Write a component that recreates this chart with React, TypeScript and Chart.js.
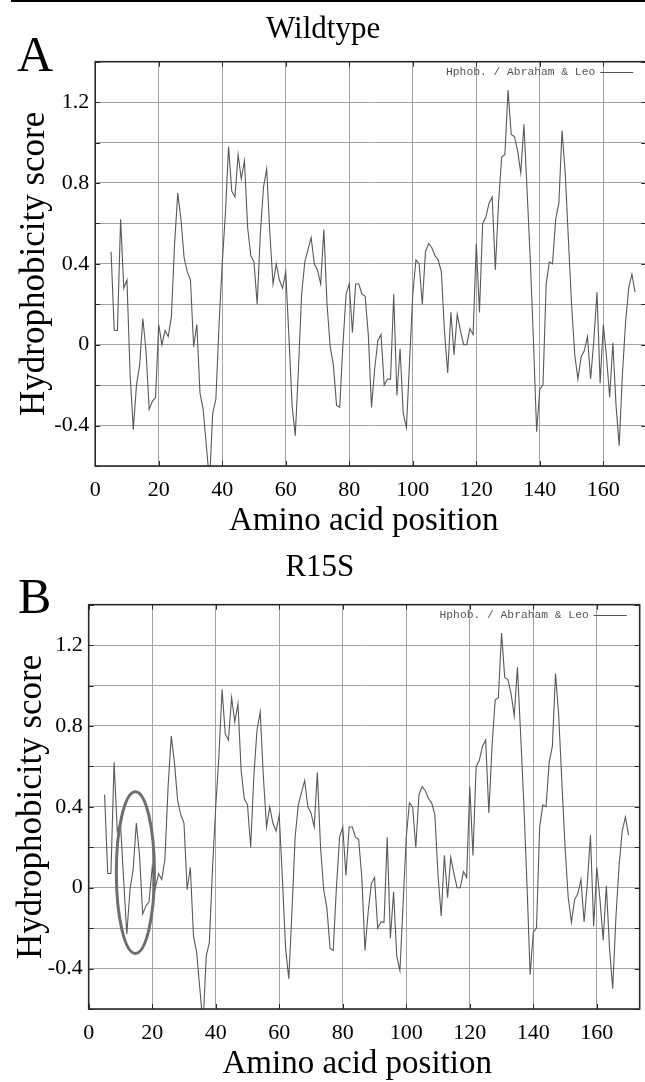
import React, { useEffect, useRef } from "react";
import { Chart, registerables } from "chart.js";

Chart.register(...registerables);

// ---------- data ----------
const START_POSITION = 5; // first amino-acid position with a window score

// Wildtype hydrophobicity scores, positions 5..170
const WILDTYPE_SCORES = [
  0.46, 0.07, 0.07, 0.62, 0.28, 0.32, -0.15, -0.42, -0.2, -0.1,
  0.13, -0.03, -0.32, -0.28, -0.26, 0.1, 0.0, 0.07, 0.04, 0.14,
  0.5, 0.75, 0.62, 0.43, 0.36, 0.32, -0.01, 0.1, -0.24, -0.32,
  -0.5, -0.68, -0.34, -0.27, 0.1, 0.4, 0.65, 0.98, 0.76, 0.73,
  0.94, 0.82, 0.91, 0.58, 0.44, 0.41, 0.2, 0.55, 0.78, 0.87,
  0.55, 0.3, 0.4, 0.32, 0.28, 0.36, 0.04, -0.3, -0.45, -0.12,
  0.25, 0.41, 0.47, 0.53, 0.4, 0.37, 0.3, 0.57, 0.2, -0.01,
  -0.1, -0.3, -0.31, 0.0, 0.25, 0.3, 0.06, 0.3, 0.3, 0.25,
  0.24, 0.05, -0.31, -0.12, 0.02, 0.05, -0.2, -0.17, -0.17, 0.25,
  -0.25, -0.02, -0.34, -0.41, -0.08, 0.25, 0.42, 0.4, 0.2, 0.46,
  0.5, 0.48, 0.44, 0.42, 0.36, 0.06, -0.14, 0.16, -0.05, 0.15,
  0.07, 0.0, 0.0, 0.08, 0.05, 0.5, 0.16, 0.6, 0.63, 0.7,
  0.73, 0.37, 0.7, 0.93, 0.94, 1.26, 1.04, 1.03, 0.96, 0.85,
  1.09, 0.76, 0.42, 0.02, -0.43, -0.22, -0.2, 0.3, 0.41, 0.4,
  0.62, 0.7, 1.06, 0.85, 0.52, 0.2, -0.05, -0.17, -0.06, -0.03,
  0.04, -0.17, 0.02, 0.26, -0.19, 0.1, -0.06, -0.26, 0.01, -0.3,
  -0.5, -0.15, 0.11, 0.28, 0.35, 0.26,
];

// R15S mutant hydrophobicity scores, positions 5..170
const R15S_SCORES = [
  0.46, 0.07, 0.07, 0.62, 0.28, 0.32, 0.04, -0.23, -0.01, 0.09,
  0.32, 0.16, -0.13, -0.09, -0.07, 0.1, 0.0, 0.07, 0.04, 0.14,
  0.5, 0.75, 0.62, 0.43, 0.36, 0.32, -0.01, 0.1, -0.24, -0.32,
  -0.5, -0.68, -0.34, -0.27, 0.1, 0.4, 0.65, 0.98, 0.76, 0.73,
  0.94, 0.82, 0.91, 0.58, 0.44, 0.41, 0.2, 0.55, 0.78, 0.87,
  0.55, 0.3, 0.4, 0.32, 0.28, 0.36, 0.04, -0.3, -0.45, -0.12,
  0.25, 0.41, 0.47, 0.53, 0.4, 0.37, 0.3, 0.57, 0.2, -0.01,
  -0.1, -0.3, -0.31, 0.0, 0.25, 0.3, 0.06, 0.3, 0.3, 0.25,
  0.24, 0.05, -0.31, -0.12, 0.02, 0.05, -0.2, -0.17, -0.17, 0.25,
  -0.25, -0.02, -0.34, -0.41, -0.08, 0.25, 0.42, 0.4, 0.2, 0.46,
  0.5, 0.48, 0.44, 0.42, 0.36, 0.06, -0.14, 0.16, -0.05, 0.15,
  0.07, 0.0, 0.0, 0.08, 0.05, 0.5, 0.16, 0.6, 0.63, 0.7,
  0.73, 0.37, 0.7, 0.93, 0.94, 1.26, 1.04, 1.03, 0.96, 0.85,
  1.09, 0.76, 0.42, 0.02, -0.43, -0.22, -0.2, 0.3, 0.41, 0.4,
  0.62, 0.7, 1.06, 0.85, 0.52, 0.2, -0.05, -0.17, -0.06, -0.03,
  0.04, -0.17, 0.02, 0.26, -0.19, 0.1, -0.06, -0.26, 0.01, -0.3,
  -0.5, -0.15, 0.11, 0.28, 0.35, 0.26,
];

const X_MIN = 0;
const X_MAX = 173.5;
const X_TICKS = [0, 20, 40, 60, 80, 100, 120, 140, 160];
const Y_MIN = -0.6;
const Y_MAX = 1.4;
const Y_TICK_STEP = 0.2;
const Y_LABEL_EVERY_TENTHS = 4; // labels at -0.4, 0, 0.4, 0.8, 1.2

const SERIES_LABEL = "Hphob. / Abraham & Leo";
const X_TITLE = "Amino acid position";
const Y_TITLE = "Hydrophobicity score";

// highlighted mutation region (data units)
const HIGHLIGHT_CENTER_X = 14.7;
const HIGHLIGHT_CENTER_Y = 0.075;
const HIGHLIGHT_RADIUS_X = 6.0;
const HIGHLIGHT_RADIUS_Y = 0.4;

// ---------- styling ----------
const SERIF = "'Liberation Serif', 'Times New Roman', serif";
const MONO = "'Liberation Mono', 'DejaVu Sans Mono', monospace";
const GRID_COLOR = "#a3a3a3";
const LINE_COLOR = "#595959";
const FRAME_COLOR = "#2a2a2a";
const X_TITLE_SIZE = 33;

const framePlugin = {
  id: "frameTicks",
  afterDraw(chart: any) {
    const { ctx, chartArea, scales } = chart;
    const { left, right, top, bottom } = chartArea;
    const x = scales.x;
    const y = scales.y;
    ctx.save();
    ctx.strokeStyle = FRAME_COLOR;
    ctx.lineWidth = 1;
    ctx.beginPath();
    for (const t of x.ticks) {
      const px = Math.round(x.getPixelForValue(t.value)) + 0.5;
      if (px < left - 1 || px > right + 1) continue;
      ctx.moveTo(px, top);
      ctx.lineTo(px, top + 5);
      ctx.moveTo(px, bottom);
      ctx.lineTo(px, bottom - 5);
    }
    for (const t of y.ticks) {
      const py = Math.round(y.getPixelForValue(t.value)) + 0.5;
      if (py < top - 1 || py > bottom + 1) continue;
      ctx.moveTo(left, py);
      ctx.lineTo(left + 5, py);
      ctx.moveTo(right, py);
      ctx.lineTo(right - 5, py);
    }
    ctx.stroke();
    ctx.lineWidth = 1.6;
    ctx.strokeRect(left, top, right - left, bottom - top);
    ctx.restore();
  },
};

// x-axis title, drawn slightly left of the plot centre as in the source figure
const xTitlePlugin = {
  id: "xTitle",
  afterDraw(chart: any) {
    const { ctx, chartArea } = chart;
    const x = scales_mid(chartArea) - 7;
    const y = chart.height - 5 - (X_TITLE_SIZE * 1.2) / 2;
    ctx.save();
    ctx.font = `${X_TITLE_SIZE}px ${SERIF}`;
    ctx.fillStyle = "#000";
    ctx.textAlign = "center";
    ctx.textBaseline = "middle";
    ctx.fillText(X_TITLE, x, y);
    ctx.restore();
  },
};

function scales_mid(area: any) {
  return (area.left + area.right) / 2;
}

const innerLegendPlugin = {
  id: "innerLegend",
  afterDraw(chart: any) {
    const { ctx, chartArea } = chart;
    const label = chart.data.datasets[0].label;
    const yMid = chartArea.top + 10;
    const lineEnd = chartArea.right - 13;
    const lineStart = lineEnd - 33;
    ctx.save();
    ctx.font = `11.3px ${MONO}`;
    ctx.fillStyle = "#555";
    ctx.textAlign = "right";
    ctx.textBaseline = "middle";
    ctx.fillText(label, lineStart - 5, yMid);
    ctx.strokeStyle = "#555";
    ctx.lineWidth = 1;
    ctx.beginPath();
    ctx.moveTo(lineStart, Math.round(yMid) + 0.5);
    ctx.lineTo(lineEnd, Math.round(yMid) + 0.5);
    ctx.stroke();
    ctx.restore();
  },
};

const ellipsePlugin = {
  id: "ellipseMark",
  afterDatasetsDraw(chart: any, _args: any, opts: any) {
    if (!opts || !opts.show) return;
    const { ctx, scales } = chart;
    const cx = scales.x.getPixelForValue(opts.cx);
    const cy = scales.y.getPixelForValue(opts.cy);
    const rx = Math.abs(scales.x.getPixelForValue(opts.cx + opts.rx) - cx);
    const ry = Math.abs(scales.y.getPixelForValue(opts.cy + opts.ry) - cy);
    ctx.save();
    ctx.strokeStyle = "#6e6e6e";
    ctx.lineWidth = 3;
    ctx.beginPath();
    ctx.ellipse(cx, cy, rx, ry, 0, 0, Math.PI * 2);
    ctx.stroke();
    ctx.restore();
  },
};

type PanelProps = {
  title: string;
  scores: number[];
  left: number;
  top: number;
  width: number;
  height: number;
  yAxisWidth: number;
  rightPad: number;
  titlePadTop: number;
  titlePadBottom: number;
  yTitlePad: number;
  showEllipse: boolean;
};

function Panel(p: PanelProps) {
  const ref = useRef<HTMLCanvasElement | null>(null);
  useEffect(() => {
    if (!ref.current) return;
    const points = p.scores.map((v, i) => ({ x: START_POSITION + i, y: v }));
    const chart = new Chart(ref.current, {
      type: "line",
      data: {
        datasets: [
          {
            label: SERIES_LABEL,
            data: points,
            borderColor: LINE_COLOR,
            borderWidth: 1.1,
            pointRadius: 0,
            tension: 0,
            fill: false,
          },
        ],
      },
      options: {
        animation: false,
        responsive: false,
        devicePixelRatio: 1,
        layout: { padding: { left: 0, right: p.rightPad, top: 0, bottom: 0 } },
        plugins: {
          legend: { display: false },
          tooltip: { enabled: false },
          title: {
            display: true,
            text: p.title,
            color: "#000",
            font: { family: SERIF, size: 31, weight: "normal" },
            padding: { top: p.titlePadTop, bottom: p.titlePadBottom },
          },
          ellipseMark: {
            show: p.showEllipse,
            cx: HIGHLIGHT_CENTER_X,
            cy: HIGHLIGHT_CENTER_Y,
            rx: HIGHLIGHT_RADIUS_X,
            ry: HIGHLIGHT_RADIUS_Y,
          },
        } as any,
        scales: {
          x: {
            type: "linear",
            min: X_MIN,
            max: X_MAX,
            afterBuildTicks: (s: any) => {
              s.ticks = X_TICKS.map((value) => ({ value }));
            },
            afterFit: (s: any) => {
              s.height = 80;
            },
            ticks: {
              color: "#000",
              font: { family: SERIF, size: 22 },
              padding: 11,
              maxRotation: 0,
              autoSkip: false,
              callback: (v: any) => String(v),
            },
            grid: { color: GRID_COLOR, lineWidth: 1, drawTicks: false },
            border: { display: false },
            title: { display: false },
          },
          y: {
            type: "linear",
            min: Y_MIN,
            max: Y_MAX,
            afterFit: (s: any) => {
              s.width = p.yAxisWidth;
            },
            ticks: {
              stepSize: Y_TICK_STEP,
              color: "#000",
              font: { family: SERIF, size: 22 },
              padding: 6,
              autoSkip: false,
              callback: (v: any) => {
                const tenths = Math.round(Number(v) * 10);
                return tenths % Y_LABEL_EVERY_TENTHS === 0 ? String(tenths / 10) : "";
              },
            },
            grid: { color: GRID_COLOR, lineWidth: 1, drawTicks: false },
            border: { display: false },
            title: {
              display: true,
              text: Y_TITLE,
              color: "#000",
              font: { family: SERIF, size: 35 },
              padding: { top: p.yTitlePad, bottom: 0 },
            },
          },
        },
      } as any,
      plugins: [framePlugin, innerLegendPlugin, ellipsePlugin, xTitlePlugin],
    });
    return () => chart.destroy();
  }, []);
  return (
    <canvas
      ref={ref}
      width={p.width}
      height={p.height}
      style={{ position: "absolute", left: p.left, top: p.top, width: p.width, height: p.height }}
    />
  );
}

const letterStyle: React.CSSProperties = {
  position: "absolute",
  fontFamily: SERIF,
  fontSize: 50,
  lineHeight: "50px",
  color: "#000",
};

export default function App() {
  return (
    <div
      style={{
        position: "absolute",
        left: 0,
        top: 0,
        width: 645,
        height: 1082,
        overflow: "hidden",
        background: "#fff",
      }}
    >
      <div style={{ position: "absolute", left: 11, top: 0, width: 634, height: 1.6, background: "#000" }} />
      <Panel
        title="Wildtype"
        scores={WILDTYPE_SCORES}
        left={0}
        top={0}
        width={650}
        height={546}
        yAxisWidth={95.2}
        rightPad={3.8}
        titlePadTop={11.4}
        titlePadBottom={13.1}
        yTitlePad={14}
        showEllipse={false}
      />
      <Panel
        title="R15S"
        scores={R15S_SCORES}
        left={0}
        top={543.2}
        width={645}
        height={546}
        yAxisWidth={88.7}
        rightPad={5.3}
        titlePadTop={6.2}
        titlePadBottom={18.3}
        yTitlePad={11}
        showEllipse={true}
      />
      <div style={{ ...letterStyle, left: 17, top: 29 }}>A</div>
      <div style={{ ...letterStyle, left: 18, top: 571 }}>B</div>
    </div>
  );
}
